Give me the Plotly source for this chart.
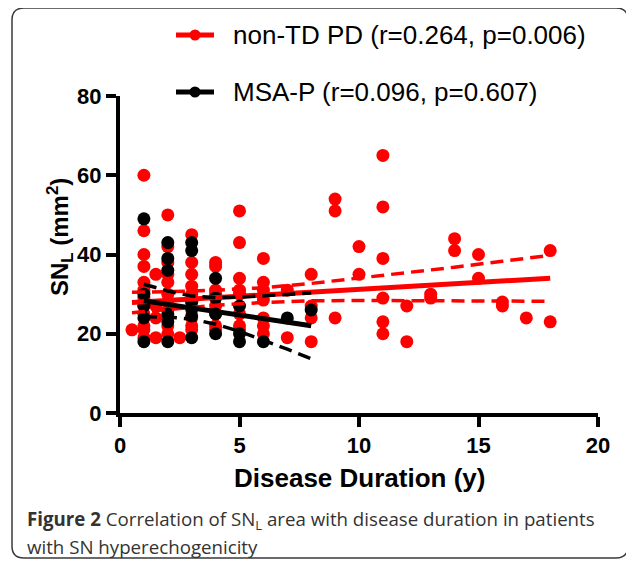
import plotly.graph_objects as go

# ---------------- data ----------------
red_duration = [0.5,
                1, 1, 1, 1, 1, 1, 1, 1, 1, 1, 1, 1,
                1.5, 1.5, 1.5, 1.5,
                2, 2, 2, 2, 2, 2, 2, 2, 2, 2, 2,
                2.5,
                3, 3, 3, 3, 3, 3, 3, 3, 3, 3,
                4, 4, 4, 4, 4, 4, 4, 4,
                5, 5, 5, 5, 5, 5, 5, 5,
                6, 6, 6, 6, 6, 6, 6,
                7, 7,
                8, 8, 8, 8,
                9, 9, 9,
                10, 10,
                11, 11, 11, 11, 11, 11,
                12, 12,
                13, 13,
                14, 14,
                15, 15,
                16, 16,
                17,
                18, 18]
red_snl = [21,
           60, 46, 40, 37, 33, 31, 29, 27, 25, 22, 21, 19,
           35, 27, 24, 19,
           50, 42, 38, 35, 33, 30, 28, 26, 24, 22, 20,
           19,
           45, 38, 35, 32, 30, 28, 26, 24, 22, 21,
           38, 37, 31, 30, 27, 25, 22, 21,
           51, 43, 34, 31, 30, 25, 22, 21,
           39, 33, 31, 28.5, 24, 22, 20,
           31, 19,
           35, 27, 24, 18,
           54, 51, 24,
           42, 35,
           65, 52, 39, 29, 23, 20,
           27, 18,
           30, 29,
           44, 41,
           40, 34,
           28, 27,
           24,
           41, 23]

black_duration = [1, 1, 1, 1, 1,
                  2, 2, 2, 2, 2, 2,
                  3, 3, 3, 3, 3, 3,
                  4, 4, 4, 4,
                  5, 5, 5,
                  6, 7, 8]
black_snl = [49, 30, 27, 24, 18,
             43, 39, 36, 25, 23, 18,
             43, 41, 28, 26.5, 24.5, 19,
             34, 29, 25, 20,
             27, 20, 18,
             18, 24, 26]

# regression lines and 95% confidence bands
red_fit_x = [0.5, 2, 4, 6, 8, 10, 12, 14, 16, 18]
red_fit_y = [27.9, 28.4, 29.1, 29.8, 30.5, 31.2, 31.9, 32.6, 33.3, 34.0]
red_ci_upper = [30.5, 30.6, 31.0, 31.6, 32.7, 34.0, 35.4, 36.8, 38.3, 39.8]
red_ci_lower = [25.3, 26.2, 27.2, 27.9, 28.3, 28.4, 28.4, 28.4, 28.3, 28.2]

black_fit_x = [1, 2, 3, 4, 5, 6, 7, 8]
black_fit_y = [28.3, 27.4, 26.5, 25.6, 24.7, 23.8, 22.9, 22.0]
black_ci_upper = [32.5, 30.8, 29.5, 29.1, 29.2, 29.5, 29.9, 30.3]
black_ci_lower = [24.3, 24.2, 23.7, 22.4, 20.6, 18.4, 16.1, 13.7]

x_ticks = [0, 5, 10, 15, 20]
y_ticks = [0, 20, 40, 60, 80]

legend_labels = ["non-TD PD (r=0.264, p=0.006)", "MSA-P (r=0.096, p=0.607)"]
legend_colors = ["#ff0000", "#000000"]

RED = "#ff0000"
BLACK = "#000000"
FONT = "Liberation Sans, Arial, sans-serif"
CAP_FONT = "Open Sans, Noto Sans, sans-serif"

# plot-area geometry (pixels inside the figure); helpers to place decorations
PL, PT, PW, PH = 112, 88, 478, 317


def px_x(px):
    return (px - PL) / PW


def px_y(py):
    return (PT + PH - py) / PH


fig = go.Figure()

# scatter points
fig.add_trace(go.Scatter(x=red_duration, y=red_snl, mode="markers",
                         marker=dict(color=RED, size=13, line=dict(width=0)),
                         showlegend=False, cliponaxis=False))
fig.add_trace(go.Scatter(x=black_duration, y=black_snl, mode="markers",
                         marker=dict(color=BLACK, size=13, line=dict(width=0)),
                         showlegend=False, cliponaxis=False))

# fit lines and confidence bands
for fx, fy, up, lo, col in [(red_fit_x, red_fit_y, red_ci_upper, red_ci_lower, RED),
                            (black_fit_x, black_fit_y, black_ci_upper, black_ci_lower, BLACK)]:
    fig.add_trace(go.Scatter(x=fx, y=fy, mode="lines",
                             line=dict(color=col, width=5), showlegend=False))
    for band in (up, lo):
        fig.add_trace(go.Scatter(x=fx, y=band, mode="lines",
                                 line=dict(color=col, width=3.5, dash="13px,7px"),
                                 showlegend=False))

# manual legend (figure pixel positions converted to paper coords)
leg_rows = [27, 84]          # row centre y (figure px)
for lab, col, ry in zip(legend_labels, legend_colors, leg_rows):
    fig.add_shape(type="line", xref="paper", yref="paper",
                  x0=px_x(168), x1=px_x(206), y0=px_y(ry), y1=px_y(ry),
                  line=dict(color=col, width=5))
    fig.add_shape(type="circle", xref="paper", yref="paper",
                  x0=px_x(181.5), x1=px_x(192.5), y0=px_y(ry + 5.5), y1=px_y(ry - 5.5),
                  line=dict(color=col, width=0), fillcolor=col)
    fig.add_annotation(xref="paper", yref="paper", x=px_x(223), y=px_y(ry),
                       xanchor="left", yanchor="middle", showarrow=False, text=lab,
                       font=dict(family=FONT, size=26, color="black"))

# rounded frame around the whole figure
L, R, T, B = px_x(4), px_x(620), px_y(0), px_y(550)
rx, ry_ = 12 / PW, 12 / PH
frame = (f"M {L+rx},{T} L {R-rx},{T} Q {R},{T} {R},{T-ry_} "
         f"L {R},{B+ry_} Q {R},{B} {R-rx},{B} "
         f"L {L+rx},{B} Q {L},{B} {L},{B+ry_} "
         f"L {L},{T-ry_} Q {L},{T} {L+rx},{T} Z")
fig.add_shape(type="path", path=frame, xref="paper", yref="paper",
              line=dict(color="#3a3a3a", width=1.5), layer="below")

# axis titles
fig.add_annotation(xref="paper", yref="paper", x=px_x(52), y=px_y(229),
                   xanchor="center", yanchor="middle", showarrow=False, textangle=-90,
                   text="<b>SN<sub>L</sub> (mm<sup>2</sup>)</b>",
                   font=dict(family=FONT, size=24, color="black"))
fig.add_annotation(xref="paper", yref="paper", x=0.5, y=px_y(470),
                   xanchor="center", yanchor="middle", showarrow=False,
                   text="<b>Disease Duration (y)</b>",
                   font=dict(family=FONT, size=26, color="black"))

# caption
fig.add_annotation(xref="paper", yref="paper", x=px_x(17), y=px_y(512),
                   xanchor="left", yanchor="middle", showarrow=False, align="left",
                   text="<b>Figure 2</b> Correlation of SN<sub>L</sub> area with disease duration in patients",
                   font=dict(family=CAP_FONT, size=18.7, color="#333333"))
fig.add_annotation(xref="paper", yref="paper", x=px_x(17), y=px_y(538),
                   xanchor="left", yanchor="middle", showarrow=False, align="left",
                   text="with SN hyperechogenicity",
                   font=dict(family=CAP_FONT, size=18.7, color="#333333"))

fig.update_layout(
    width=634, height=563,
    margin=dict(l=PL, r=634 - PL - PW, t=PT, b=563 - PT - PH, autoexpand=False),
    paper_bgcolor="white", plot_bgcolor="white",
    font=dict(family=FONT, color="black"),
    showlegend=False,
    xaxis=dict(range=[0, 20], tickvals=x_ticks, showgrid=False, zeroline=False,
               showline=True, linecolor="black", linewidth=4,
               ticks="outside", ticklen=10, tickwidth=4, tickcolor="black",
               tickfont=dict(family=FONT, size=22, color="black", weight="bold")),
    yaxis=dict(range=[0, 80], tickvals=y_ticks, showgrid=False, zeroline=False,
               showline=True, linecolor="black", linewidth=4,
               ticks="outside", ticklen=10, tickwidth=4, tickcolor="black",
               tickfont=dict(family=FONT, size=22, color="black", weight="bold")),
)

fig.write_html("out.html")
